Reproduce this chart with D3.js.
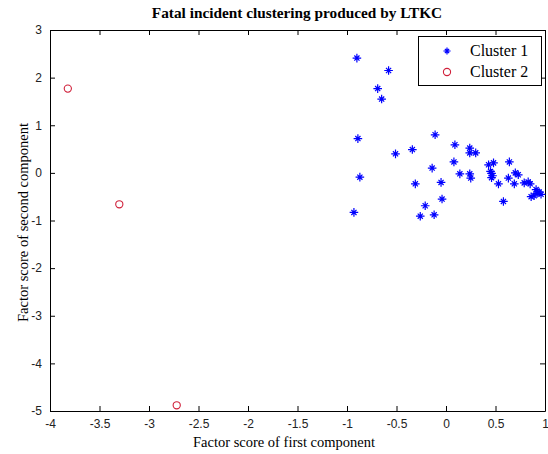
<!DOCTYPE html>
<html>
<head>
<meta charset="utf-8">
<script src="https://cdn.jsdelivr.net/npm/d3@7"></script>
<style>
  body { margin: 0; background: #fff; }
  .tick text { font-family: "Liberation Sans", Arial, sans-serif; font-size: 12px; fill: #222; }
</style>
</head>
<body>
<div class="chart"></div>
<script>
// DATA ------------------------------------
const cluster1X = [-0.90, -0.58, -0.69, -0.65, -0.89, -0.11, -0.51, -0.34, 0.09, 0.24, 0.24, 0.30,
                   0.08, -0.14, -0.87, 0.14, 0.24, 0.25, 0.43, 0.48, 0.64, 0.46, 0.47, 0.46,
                   0.53, 0.63, 0.70, 0.73, 0.69, 0.79, 0.83, 0.85, 0.91, 0.94, 0.92, 0.86,
                   0.89, 0.96, -0.31, -0.05, -0.04, -0.21, -0.26, -0.12, -0.93, 0.58, 0.45];
const cluster1Y = [2.41, 2.15, 1.77, 1.55, 0.72, 0.80, 0.40, 0.49, 0.59, 0.52, 0.42, 0.42,
                   0.23, 0.10, -0.09, -0.02, -0.02, -0.11, 0.17, 0.21, 0.23, -0.01, -0.06, -0.10,
                   -0.23, -0.11, 0.00, -0.04, -0.23, -0.21, -0.19, -0.23, -0.35, -0.40, -0.43, -0.50,
                   -0.48, -0.45, -0.23, -0.20, -0.55, -0.69, -0.91, -0.88, -0.83, -0.60, 0.03];
const cluster2X = [-3.82, -3.30, -2.72];
const cluster2Y = [1.77, -0.66, -4.88];
const xTicks = [-4, -3.5, -3, -2.5, -2, -1.5, -1, -0.5, 0, 0.5, 1];
const yTicks = [-5, -4, -3, -2, -1, 0, 1, 2, 3];
const seriesNames = ["Cluster 1", "Cluster 2"];

// CHART INIT ------------------------------
var margin = {top: 30, right: 3, bottom: 43, left: 50};
var width = 548 - margin.left - margin.right,
    height = 454 - margin.top - margin.bottom;

const root = d3.select(".chart").append("svg")
    .attr("width", 548)
    .attr("height", 454);
const svg = root.append("g")
    .attr("transform", "translate(" + margin.left + "," + margin.top + ")");

const x = d3.scaleLinear().domain([-4, 1]).range([0, width]);
const y = d3.scaleLinear().domain([-5, 3]).range([height, 0]);

// axes, matlab style: ticks inward, box on
const fmt = d => String(d);
svg.append("g")
    .attr("transform", "translate(0," + height + ")")
    .call(d3.axisBottom(x).tickValues(xTicks).tickSizeInner(-5).tickSizeOuter(0).tickPadding(8).tickFormat(fmt));
svg.append("g")
    .call(d3.axisTop(x).tickValues(xTicks).tickSizeInner(-5).tickSizeOuter(0).tickFormat(""));
svg.append("g")
    .call(d3.axisLeft(y).tickValues(yTicks).tickSizeInner(-5).tickSizeOuter(0).tickPadding(8).tickFormat(fmt));
svg.append("g")
    .attr("transform", "translate(" + width + ",0)")
    .call(d3.axisRight(y).tickValues(yTicks).tickSizeInner(-5).tickSizeOuter(0).tickFormat(""));
svg.selectAll(".domain").attr("stroke", "#000");
svg.selectAll(".tick line").attr("stroke", "#000");

// star marker
function star(g, cx, cy, r) {
    const d = "M" + (cx - r) + "," + cy + "H" + (cx + r) +
              "M" + cx + "," + (cy - r) + "V" + (cy + r) +
              "M" + (cx - r * 0.6) + "," + (cy - r * 0.6) + "L" + (cx + r * 0.6) + "," + (cy + r * 0.6) +
              "M" + (cx - r * 0.6) + "," + (cy + r * 0.6) + "L" + (cx + r * 0.6) + "," + (cy - r * 0.6);
    g.append("path").attr("d", d).attr("stroke", "#0000ff").attr("stroke-width", 1.2).attr("fill", "none");
}

const c1 = cluster1X.map((v, i) => ({x: v, y: cluster1Y[i]}));
const c2 = cluster2X.map((v, i) => ({x: v, y: cluster2Y[i]}));

const g1 = svg.append("g");
c1.forEach(d => star(g1, x(d.x), y(d.y), 4.3));

svg.append("g").selectAll("circle")
    .data(c2)
    .enter()
    .append("circle")
    .attr("cx", d => x(d.x))
    .attr("cy", d => y(d.y))
    .attr("r", 3.6)
    .attr("fill", "none")
    .attr("stroke", "#d0203a")
    .attr("stroke-width", 1.1);

// legend
const lg = root.append("g");
lg.append("rect")
    .attr("x", 418.5).attr("y", 36.5).attr("width", 123).attr("height", 49)
    .attr("fill", "#fff").attr("stroke", "#000");
star(lg, 447, 51, 3.6);
lg.append("circle").attr("cx", 447).attr("cy", 72).attr("r", 3.6)
    .attr("fill", "none").attr("stroke", "#d0203a").attr("stroke-width", 1.1);
seriesNames.forEach((n, i) => {
    lg.append("text")
        .attr("x", 470).attr("y", 51 + i * 21 + 5)
        .attr("font-family", "'Liberation Serif', 'Times New Roman', serif")
        .attr("font-size", 16)
        .text(n);
});

// titles
root.append("text")
    .attr("x", 297).attr("y", 18)
    .attr("text-anchor", "middle")
    .attr("font-family", "'Liberation Serif', 'Times New Roman', serif")
    .attr("font-weight", "bold")
    .attr("font-size", 15.3)
    .text("Fatal incident clustering produced by LTKC");
root.append("text")
    .attr("x", 284).attr("y", 447)
    .attr("text-anchor", "middle")
    .attr("font-family", "'Liberation Serif', 'Times New Roman', serif")
    .attr("font-size", 14.5)
    .text("Factor score of first component");
root.append("text")
    .attr("transform", "translate(28," + (margin.top + height / 2 + 2) + ") rotate(-90)")
    .attr("text-anchor", "middle")
    .attr("font-family", "'Liberation Serif', 'Times New Roman', serif")
    .attr("font-size", 14.5)
    .text("Factor score of second component");
</script>
</body>
</html>
